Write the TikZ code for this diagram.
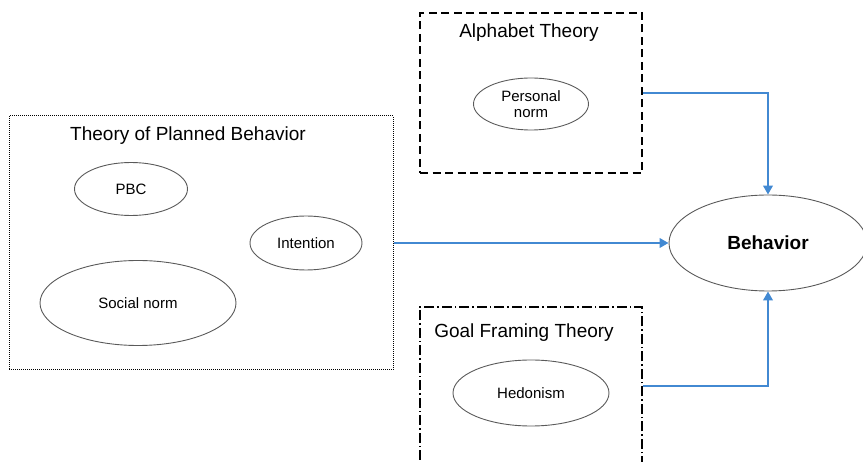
\documentclass[tikz,border=0pt]{standalone}
\usepackage{fontspec}
\setmainfont{Liberation Sans}
\usetikzlibrary{shapes.geometric,arrows.meta}
\definecolor{arrowblue}{RGB}{66,137,210}
\definecolor{ellgray}{RGB}{90,90,90}
\tikzset{
  oval/.style={ellipse,draw=ellgray,line width=0.9pt,inner sep=0pt,font=\fontsize{15}{17}\selectfont,align=center},
  theorybox/.style={draw=black,rectangle,inner sep=0pt},
  boxtitle/.style={font=\fontsize{19}{21}\selectfont,inner sep=0pt},
  link/.style={draw=arrowblue,line width=2.8pt,-{Triangle[length=9pt,width=9.5pt]}}
}
\begin{document}
\begin{tikzpicture}[x=1pt,y=-1pt]
\useasboundingbox (0,0) rectangle (863,462);
\clip (0,0) rectangle (863,462);
% boxes
\node[theorybox,line width=1pt,dash pattern=on 1pt off 1pt,minimum width=384pt,minimum height=254pt] (tpb) at (201,243) {};
\node[theorybox,line width=1.6pt,dash pattern=on 8pt off 4.5pt,minimum width=222pt,minimum height=160pt] (alpha) at (531,93) {};
\node[theorybox,line width=1.6pt,dash pattern=on 10pt off 3pt on 1.5pt off 3pt,minimum width=222pt,minimum height=200pt] (goal) at (531,407) {};
% titles
\node[boxtitle] (tpbt) at (188,136) {Theory of Planned Behavior};
\node[boxtitle] (alphat) at (529,33) {Alphabet Theory};
\node[boxtitle] (goalt) at (524,333) {Goal Framing Theory};
% ovals
\node[oval,minimum width=113pt,minimum height=53pt] (pbc) at (131,189) {PBC};
\node[oval,minimum width=112pt,minimum height=54pt] (int) at (306,243) {Intention};
\node[oval,minimum width=196pt,minimum height=85pt] (soc) at (138,303) {Social norm};
\node[oval,minimum width=115pt,minimum height=52pt] (pers) at (531,104) {Personal\\[-1pt]norm};
\node[oval,minimum width=156pt,minimum height=66pt] (hed) at (531,393) {Hedonism};
\node[oval,minimum width=198pt,minimum height=96pt,font=\fontsize{19}{21}\selectfont\bfseries] (beh) at (768,243) {Behavior};
% connectors
\coordinate (a1) at (alpha.east |- 0,93);
\coordinate (g1) at (goal.east |- 0,386);
\draw[link] (a1) -| (beh.north);
\draw[link] (tpb.east) -- (beh.west);
\draw[link] (g1) -| (beh.south);
\end{tikzpicture}
\end{document}
